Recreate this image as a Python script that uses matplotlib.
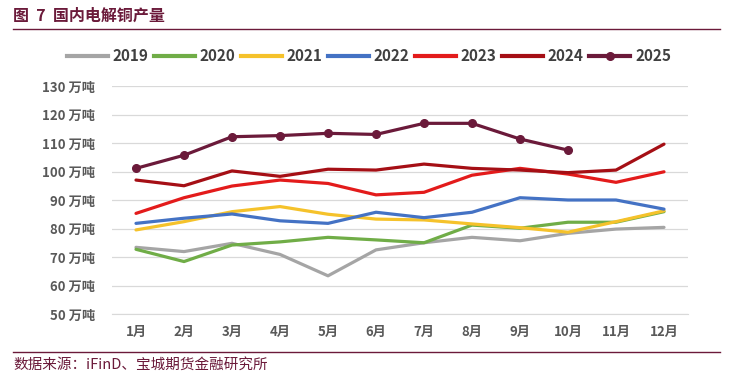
import matplotlib.pyplot as plt
from matplotlib.lines import Line2D

plt.rcParams['font.family'] = ['Noto Sans CJK SC', 'DejaVu Sans']

months = ['1月', '2月', '3月', '4月', '5月', '6月', '7月', '8月', '9月', '10月', '11月', '12月']
y2019 = [73.4, 71.9, 74.8, 70.9, 63.4, 72.5, 75.0, 76.9, 75.7, 78.3, 79.8, 80.4]
y2020 = [72.7, 68.4, 74.2, 75.3, 76.9, 76.0, 75.0, 81.2, 80.1, 82.2, 82.2, 85.9]
y2021 = [79.5, 82.4, 85.9, 87.7, 85.0, 83.3, 83.0, 81.6, 80.3, 78.7, 82.4, 86.2]
y2022 = [81.8, 83.6, 85.1, 82.7, 81.8, 85.7, 83.8, 85.7, 90.8, 90.0, 90.0, 86.8]
y2023 = [85.3, 90.8, 94.9, 97.0, 95.8, 91.8, 92.7, 98.7, 101.1, 99.1, 96.2, 99.9]
y2024 = [97.0, 95.0, 100.2, 98.3, 100.8, 100.5, 102.6, 101.1, 100.5, 99.6, 100.5, 109.6]
y2025 = [101.1, 105.7, 112.2, 112.6, 113.4, 113.0, 116.9, 116.9, 111.4, 107.5]

series = [
    ('2019', y2019, '#A5A5A5'),
    ('2020', y2020, '#70AD47'),
    ('2021', y2021, '#F5C22B'),
    ('2022', y2022, '#4472C4'),
    ('2023', y2023, '#E31B1B'),
    ('2024', y2024, '#A50F15'),
]

fig = plt.figure(figsize=(7.33, 3.86), dpi=100)
ax = fig.add_axes([112 / 733, 1 - 314 / 386, 576 / 733, 228 / 386])

x = list(range(len(months)))
handles = []
for name, vals, col in series:
    ax.plot(x[:len(vals)], vals, color=col, lw=2.3, solid_capstyle='round', zorder=2)
    handles.append(Line2D([], [], color=col, lw=3))
ax.plot(x[:len(y2025)], y2025, color='#6B1A3A', lw=2.3, marker='o', ms=5.5, zorder=3)
handles.append(Line2D([], [], color='#6B1A3A', lw=3, marker='o', ms=5.5))

ax.set_xlim(-0.5, 11.5)
ax.set_ylim(50, 130)
ax.set_yticks(range(50, 131, 10))
ax.set_yticklabels([f'{v} 万吨' for v in range(50, 131, 10)])
ax.set_xticks(x)
ax.set_xticklabels(months)
ax.grid(axis='y', color='#D9D9D9', lw=0.9)
ax.set_axisbelow(True)
for s in ['top', 'right', 'left']:
    ax.spines[s].set_visible(False)
ax.spines['bottom'].set_color('#D9D9D9')
ax.tick_params(length=0, colors='#595959', labelsize=9.5, pad=12)
for lbl in ax.get_yticklabels() + ax.get_xticklabels():
    lbl.set_fontweight('bold')
ax.tick_params(axis='x', pad=8)

fig.legend(handles, [s[0] for s in series] + ['2025'], loc='center',
           bbox_to_anchor=(369 / 733, 1 - 56 / 386), ncol=7, frameon=False,
           prop={'size': 11, 'weight': 'bold'}, labelcolor='#404040',
           handlelength=2.7, handletextpad=0.3, columnspacing=0.35)

fig.text(13 / 733, 1 - 16 / 386, '图  7  国内电解铜产量', color='#6B1A3A',
         fontsize=11.5, fontweight='bold', va='center', ha='left')
fig.add_artist(Line2D([13 / 733, 720 / 733], [1 - 29 / 386] * 2, color='#6B1A3A', lw=1.0))
fig.add_artist(Line2D([13 / 733, 720 / 733], [1 - 352 / 386] * 2, color='#6B1A3A', lw=1.0))
fig.text(13 / 733, 1 - 365 / 386, '数据来源：iFinD、宝城期货金融研究所', color='#6B1A3A',
         fontsize=10.5, va='center', ha='left')

fig.savefig('out.png', dpi=100)
